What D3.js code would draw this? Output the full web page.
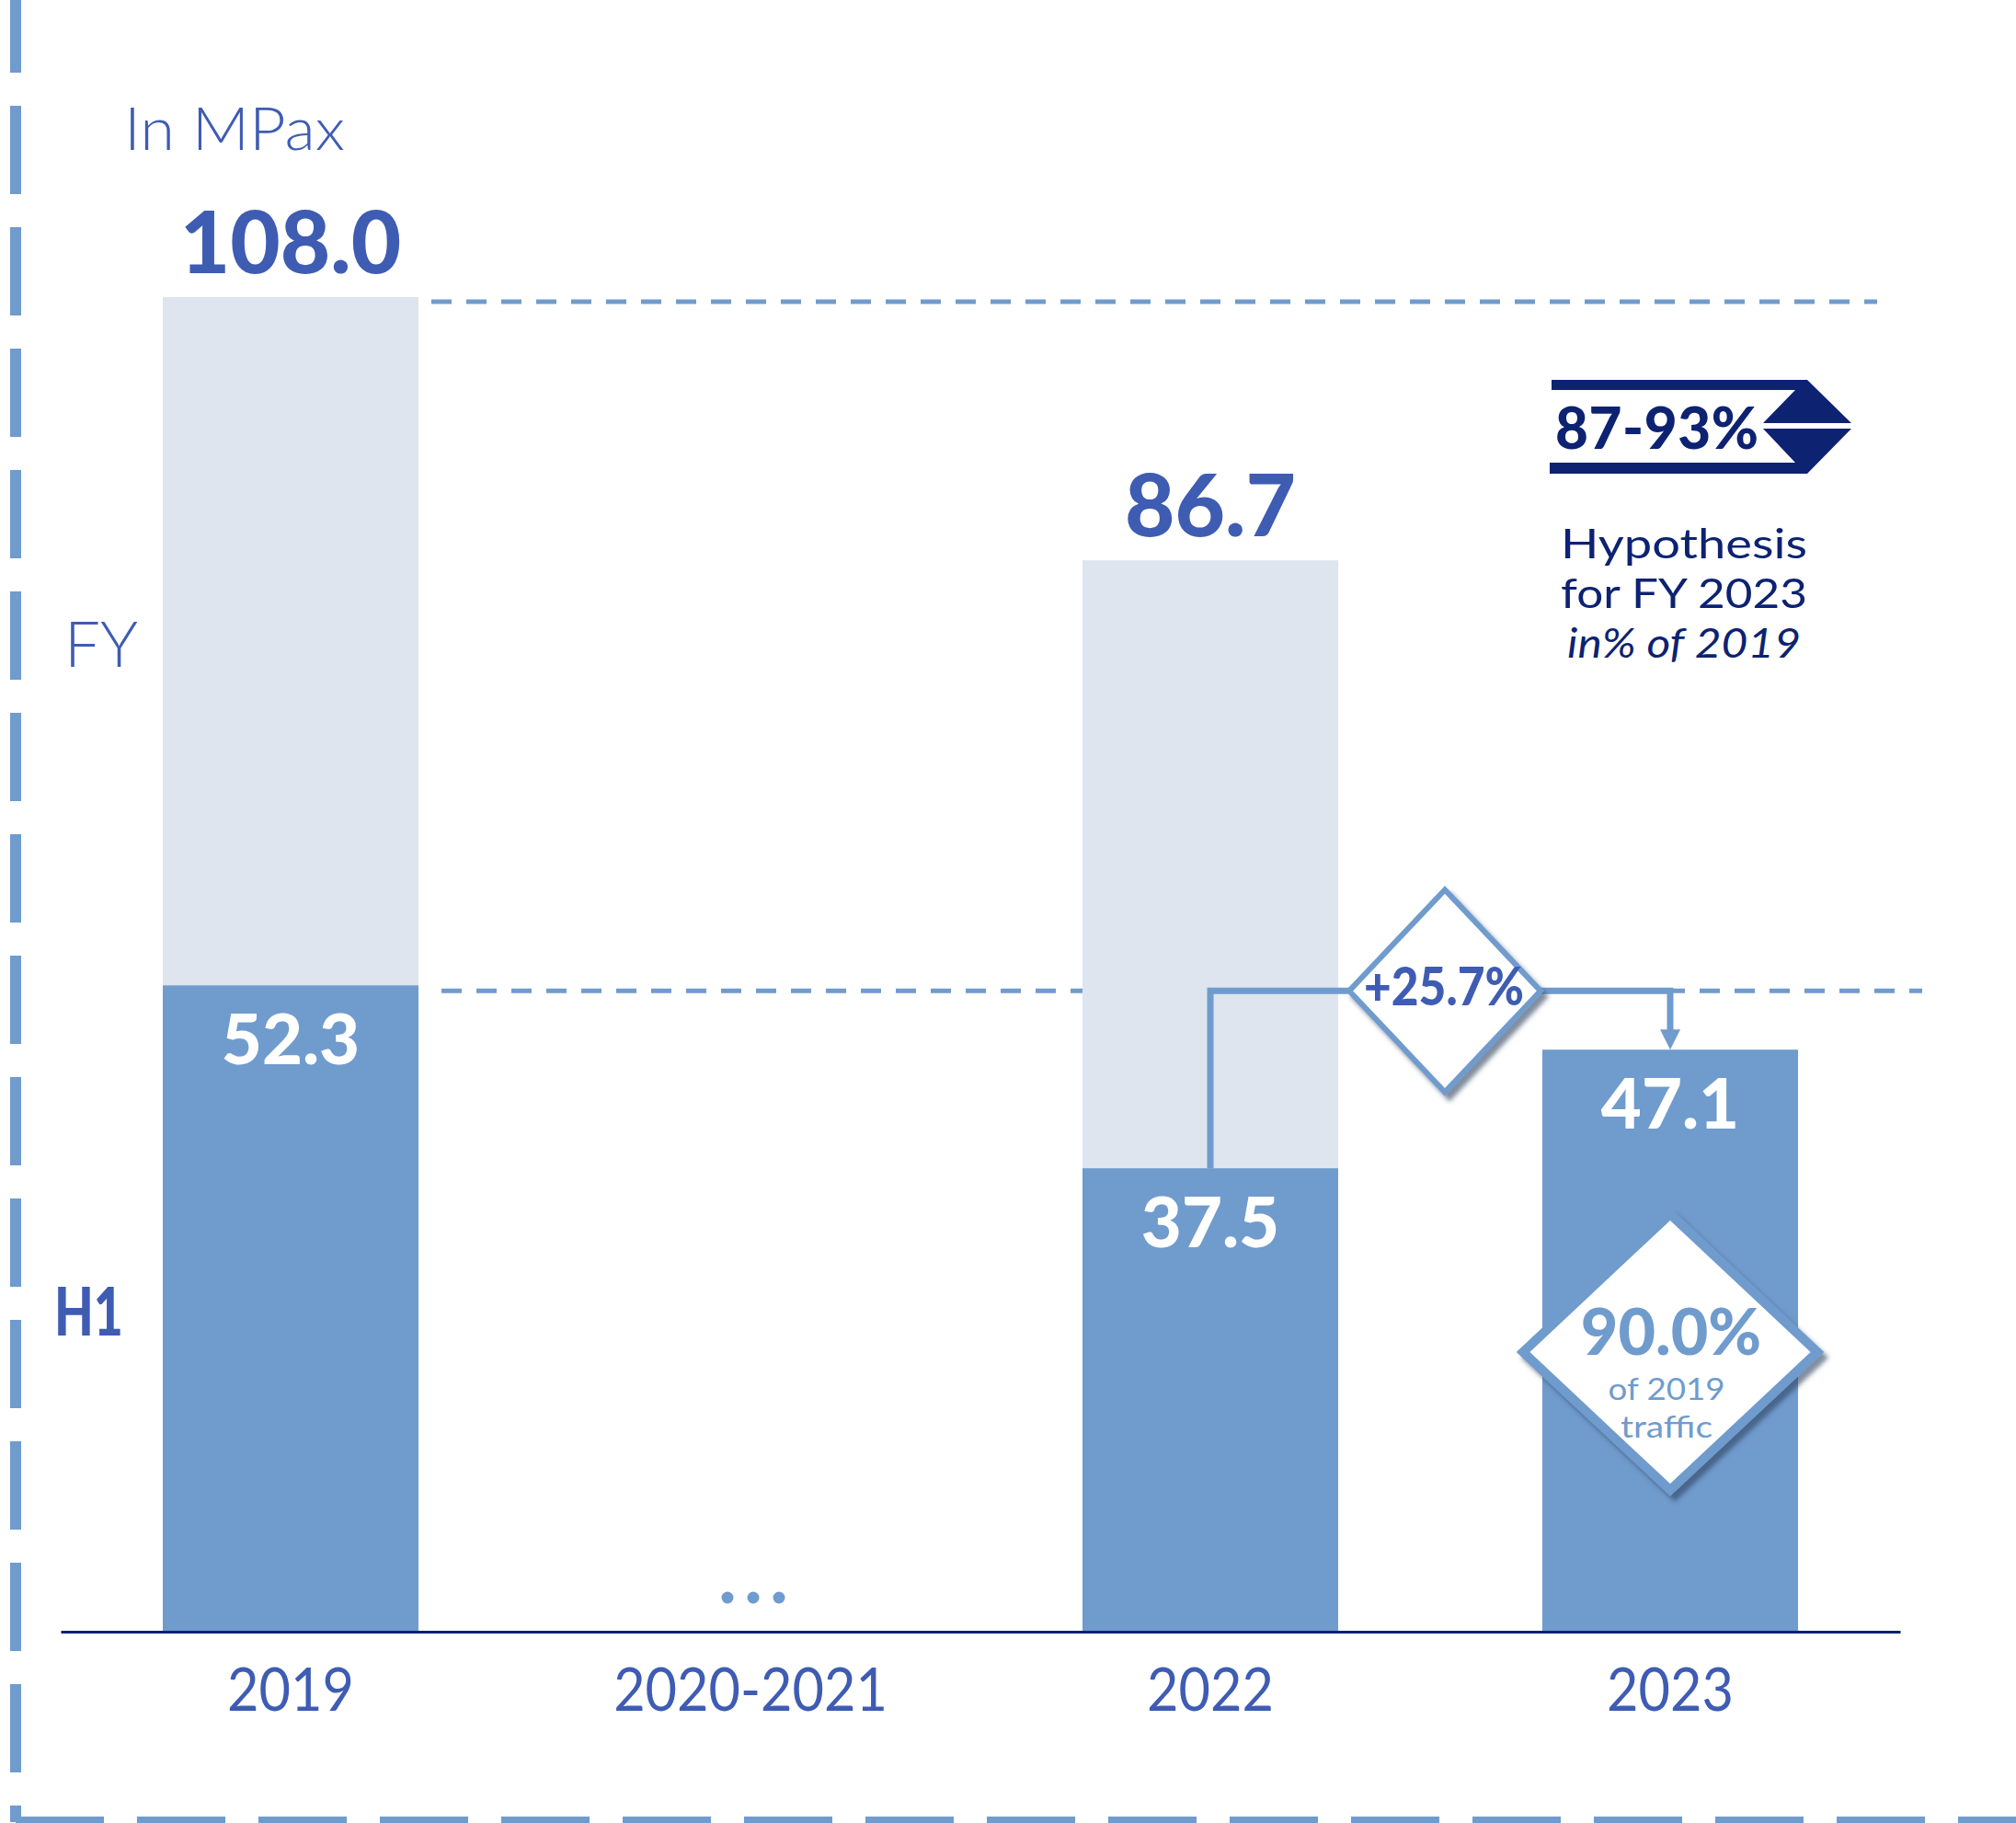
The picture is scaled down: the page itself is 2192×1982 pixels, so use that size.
<!DOCTYPE html>
<html>
<head>
<meta charset="utf-8">
<script src="https://cdn.jsdelivr.net/npm/d3@7"></script>
<style>
  html, body { margin: 0; padding: 0; background: #ffffff; }
  svg { display: block; }
  text { font-family: "Lato", "Noto Sans", "DejaVu Sans", sans-serif; }
</style>
</head>
<body>
<svg id="chart" width="2192" height="1982"></svg>
<script>
// Passenger traffic, in millions of passengers
const categories = ["2019", "2020-2021", "2022", "2023"];
const fyValues   = [108.0, null, 86.7, null];
const h1Values   = [52.3, null, 37.5, 47.1];
const fyLabels   = ["108.0", null, "86.7", null];
const h1Labels   = ["52.3", null, "37.5", "47.1"];
const rowLabels  = ["FY", "H1"];
const unitLabel  = "In MPax";
const growthLabel = "+25.7%";
const shareLabel  = "90.0%";
const shareNote   = ["of 2019", "traffic"];
const hypothesisLabel = "87-93%";
const hypothesisNote  = ["Hypothesis", "for FY 2023", "in% of 2019"];

const W = 2192, H = 1982;
const COLOR = {
  bar: "#709BCD",
  fy: "#DEE5EF",
  text: "#3F5CB3",
  navy: "#0D2271"
};

const svg = d3.select("#chart");

// squeeze a text element horizontally to a given fraction of its natural width
function condense(sel, k) {
  sel.each(function () {
    const len = this.getComputedTextLength();
    d3.select(this).attr("textLength", len * k).attr("lengthAdjust", "spacingAndGlyphs");
  });
}

// scales
const x = d3.scaleBand()
  .domain(categories)
  .range([66, 2066])
  .paddingInner(0.444)
  .paddingOuter(0.222);
const y = d3.scaleLinear()
  .domain([0, d3.max(fyValues)])
  .range([1774, 323]);
const bw = x.bandwidth();
const cx = c => x(c) + bw / 2;

const rows = categories.map((c, i) => ({
  cat: c, fy: fyValues[i], h1: h1Values[i], fyLabel: fyLabels[i], h1Label: h1Labels[i]
}));

// drop shadow used by the callouts
const defs = svg.append("defs");
const sh = defs.append("filter").attr("id", "shadow")
  .attr("x", "-30%").attr("y", "-30%").attr("width", "170%").attr("height", "170%");
sh.append("feDropShadow").attr("dx", 5).attr("dy", 6).attr("stdDeviation", 2.5)
  .attr("flood-color", "#2f3f5f").attr("flood-opacity", 0.6);

// dashed frame (left and bottom edges)
svg.append("line")
  .attr("x1", 17).attr("y1", -17).attr("x2", 17).attr("y2", 1981)
  .attr("stroke", COLOR.bar).attr("stroke-width", 12).attr("stroke-dasharray", "96 36");
svg.append("line")
  .attr("x1", 17).attr("y1", 1981).attr("x2", W + 40).attr("y2", 1981)
  .attr("stroke", COLOR.bar).attr("stroke-width", 12).attr("stroke-dasharray", "96 36");

// reference lines at 2019 FY and H1 levels
const refFY = y(fyValues[0]) + 5;
const refH1 = y(h1Values[0]) + 6;
svg.append("line")
  .attr("x1", x("2019") + bw + 14).attr("x2", 2041)
  .attr("y1", refFY).attr("y2", refFY)
  .attr("stroke", COLOR.bar).attr("stroke-width", 5).attr("stroke-dasharray", "22 16");
svg.append("line")
  .attr("x1", x("2019") + bw + 25).attr("x2", 2090)
  .attr("y1", refH1).attr("y2", refH1)
  .attr("stroke", COLOR.bar).attr("stroke-width", 5).attr("stroke-dasharray", "22 16");

// bars
svg.append("g").selectAll("rect")
  .data(rows.filter(d => d.fy != null))
  .join("rect")
  .attr("x", d => x(d.cat)).attr("width", bw)
  .attr("y", d => y(d.fy)).attr("height", d => y(0) - y(d.fy))
  .attr("fill", COLOR.fy);
svg.append("g").selectAll("rect")
  .data(rows.filter(d => d.h1 != null))
  .join("rect")
  .attr("x", d => x(d.cat)).attr("width", bw)
  .attr("y", d => y(d.h1)).attr("height", d => y(0) - y(d.h1))
  .attr("fill", COLOR.bar);

// missing years placeholder
svg.append("g").selectAll("circle")
  .data([-28, 0, 28])
  .join("circle")
  .attr("cx", d => cx("2020-2021") + d + 3).attr("cy", 1737).attr("r", 6.5)
  .attr("fill", COLOR.bar);

// x axis
const xAxis = svg.append("g")
  .attr("transform", `translate(0,${y(0)})`)
  .call(d3.axisBottom(x).tickSize(0).tickPadding(39));
xAxis.select(".domain").attr("stroke", COLOR.navy).attr("stroke-width", 3);
xAxis.selectAll("text")
  .attr("fill", COLOR.text).attr("font-size", 66)
  .style("font-family", "Lato, 'Noto Sans', sans-serif")
  .call(condense, 0.9);

// value labels
svg.append("g").selectAll("text")
  .data(rows.filter(d => d.fyLabel))
  .join("text")
  .attr("x", d => cx(d.cat)).attr("y", d => y(d.fy) - 26)
  .attr("text-anchor", "middle").attr("font-weight", 900).attr("font-size", 94)
  .attr("fill", COLOR.text).text(d => d.fyLabel);
svg.append("g").selectAll("text")
  .data(rows.filter(d => d.h1Label))
  .join("text")
  .attr("x", d => cx(d.cat)).attr("y", d => y(d.h1) + 86)
  .attr("text-anchor", "middle").attr("font-weight", 900).attr("font-size", 76)
  .attr("fill", "#ffffff").text(d => d.h1Label);

// unit and row labels
svg.append("text").attr("x", 135).attr("y", 163)
  .attr("font-size", 66).attr("font-weight", 300).attr("fill", COLOR.text)
  .attr("textLength", 240).attr("lengthAdjust", "spacingAndGlyphs").text(unitLabel);
svg.append("text").attr("x", 70).attr("y", 725)
  .attr("font-size", 69).attr("font-weight", 300).attr("fill", COLOR.text).text(rowLabels[0]);
svg.append("text").attr("x", 59).attr("y", 1452)
  .attr("font-size", 72).attr("font-weight", 900).attr("fill", COLOR.text)
  .attr("textLength", 75).attr("lengthAdjust", "spacingAndGlyphs").text(rowLabels[1]);

// growth connector 2022 H1 -> 2023 H1
const x22 = cx("2022"), x23 = cx("2023");
const arrowTop = y(h1Values[3]) - 22;
svg.append("path")
  .attr("d", `M${x22},${y(h1Values[2])} V${refH1} H${x23} V${arrowTop + 2}`)
  .attr("fill", "none").attr("stroke", COLOR.bar).attr("stroke-width", 7);
svg.append("path")
  .attr("d", `M${x23 - 11},${arrowTop} L${x23 + 11},${arrowTop} L${x23},${y(h1Values[3])} Z`)
  .attr("fill", COLOR.bar);

const dg = (x22 + x23) / 2 + 5;
svg.append("path")
  .attr("d", `M${dg},${refH1 - 110} L${dg + 104},${refH1} L${dg},${refH1 + 110} L${dg - 104},${refH1} Z`)
  .attr("fill", "#ffffff").attr("stroke", COLOR.bar).attr("stroke-width", 6)
  .attr("stroke-linejoin", "miter").attr("filter", "url(#shadow)");
svg.append("text").attr("x", dg - 1).attr("y", refH1 + 16)
  .attr("text-anchor", "middle").attr("font-weight", 900).attr("font-size", 58)
  .attr("textLength", 174).attr("lengthAdjust", "spacingAndGlyphs")
  .attr("fill", COLOR.text).text(growthLabel);

// share of 2019 callout on the 2023 bar
const sy = 1470;
svg.append("path")
  .attr("d", `M${x23},${sy - 150} L${x23 + 160},${sy} L${x23},${sy + 150} L${x23 - 160},${sy} Z`)
  .attr("fill", "#ffffff").attr("stroke", COLOR.bar).attr("stroke-width", 10)
  .attr("filter", "url(#shadow)");
svg.append("text").attr("x", x23 + 1).attr("y", sy + 3)
  .attr("text-anchor", "middle").attr("font-weight", 900).attr("font-size", 70)
  .attr("fill", COLOR.bar).text(shareLabel);
const shareWidths = [127, 100];
shareNote.forEach((t, i) => {
  svg.append("text").attr("x", x23 - 4).attr("y", sy + 52 + i * 41)
    .attr("text-anchor", "middle").attr("font-weight", 400).attr("font-size", 33)
    .attr("textLength", shareWidths[i]).attr("lengthAdjust", "spacingAndGlyphs")
    .attr("fill", COLOR.bar).text(t);
});

// FY 2023 hypothesis badge
const badge = svg.append("g");
badge.append("path")
  .attr("d", "M1687,413 H1965 L2013,460 H1917 L1952,424 H1687 Z")
  .attr("fill", COLOR.navy);
badge.append("path")
  .attr("d", "M1917,466 H2013 L1965,515 H1685 V503 H1952 Z")
  .attr("fill", COLOR.navy);
badge.append("text").attr("x", 1691).attr("y", 488)
  .attr("font-weight", 900).attr("font-size", 62)
  .attr("textLength", 221).attr("lengthAdjust", "spacing")
  .attr("fill", COLOR.navy).text(hypothesisLabel);
const noteWidths = [268, 268, 254];
hypothesisNote.forEach((t, i) => {
  badge.append("text").attr("x", 1831).attr("y", 607 + i * 54)
    .attr("text-anchor", "middle").attr("font-size", 45).attr("font-weight", 400)
    .attr("font-style", i === 2 ? "italic" : "normal")
    .attr("textLength", noteWidths[i]).attr("lengthAdjust", "spacingAndGlyphs")
    .attr("fill", COLOR.navy).text(t);
});
</script>
</body>
</html>
